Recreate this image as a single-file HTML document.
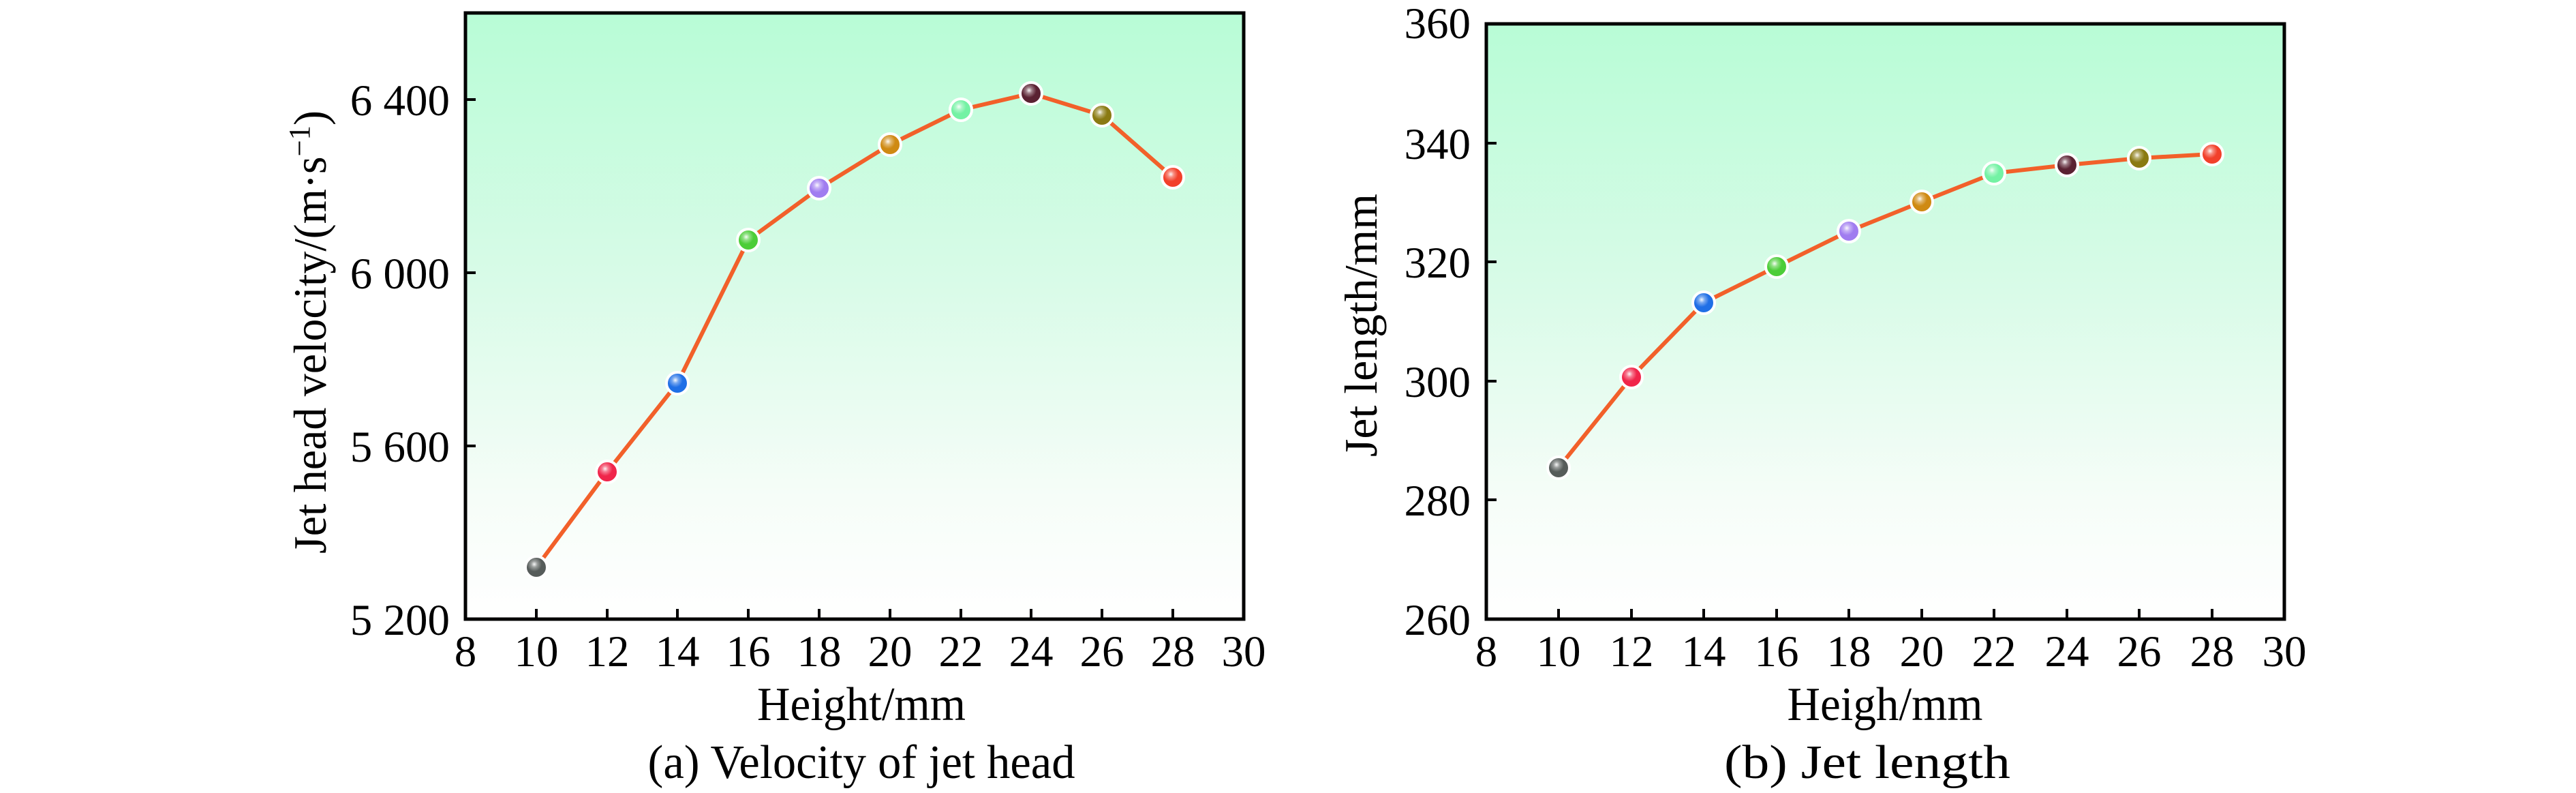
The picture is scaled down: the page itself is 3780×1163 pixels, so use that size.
<!DOCTYPE html>
<html><head><meta charset="utf-8"><style>html,body{margin:0;padding:0;background:#fff}svg{display:block}text{font-family:"Liberation Serif",serif;fill:#000}</style></head>
<body>
<svg width="3780" height="1163" viewBox="0 0 3780 1163" xmlns="http://www.w3.org/2000/svg">
<defs>
<linearGradient id="bg" x1="0" y1="0" x2="0" y2="1">
<stop offset="0" stop-color="#b8fcd6"/><stop offset="0.45" stop-color="#d9fbe8"/><stop offset="0.8" stop-color="#f6fdf8"/><stop offset="1" stop-color="#ffffff"/>
</linearGradient>
<radialGradient id="hl" cx="0.4" cy="0.35" r="0.6"><stop offset="0" stop-color="#fff" stop-opacity="0.95"/><stop offset="0.25" stop-color="#fff" stop-opacity="0.4"/><stop offset="0.6" stop-color="#fff" stop-opacity="0"/></radialGradient>
</defs>
<!-- Chart a -->
<rect x="683" y="19" width="1142" height="889" fill="url(#bg)"/>
<g stroke="#000" stroke-width="4">
<line x1="787" y1="908" x2="787" y2="893"/><line x1="891" y1="908" x2="891" y2="893"/><line x1="994" y1="908" x2="994" y2="893"/><line x1="1098" y1="908" x2="1098" y2="893"/><line x1="1202" y1="908" x2="1202" y2="893"/><line x1="1306" y1="908" x2="1306" y2="893"/><line x1="1410" y1="908" x2="1410" y2="893"/><line x1="1513" y1="908" x2="1513" y2="893"/><line x1="1617" y1="908" x2="1617" y2="893"/><line x1="1721" y1="908" x2="1721" y2="893"/>
<line x1="683" y1="146" x2="698" y2="146"/><line x1="683" y1="400" x2="698" y2="400"/><line x1="683" y1="654" x2="698" y2="654"/>
</g>
<rect x="683" y="19" width="1142" height="889" fill="none" stroke="#000" stroke-width="5"/>
<polyline fill="none" stroke="#f2602a" stroke-width="6" points="787,832 891,692 994,562 1098,352 1202,276 1306,212 1410,161 1513,137 1617,169 1721,260"/>
<g stroke="#fff" stroke-width="4">
<circle cx="787" cy="832" r="16" fill="#565c5a"/><circle cx="891" cy="692" r="16" fill="#f0254a"/><circle cx="994" cy="562" r="16" fill="#1f6fe6"/><circle cx="1098" cy="352" r="16" fill="#4ccd38"/><circle cx="1202" cy="276" r="16" fill="#a07cf0"/><circle cx="1306" cy="212" r="16" fill="#cf8a12"/><circle cx="1410" cy="161" r="16" fill="#74f2a4"/><circle cx="1513" cy="137" r="16" fill="#5a2232"/><circle cx="1617" cy="169" r="16" fill="#8a7a12"/><circle cx="1721" cy="260" r="16" fill="#f2402a"/>
</g>
<g fill="url(#hl)">
<circle cx="787" cy="832" r="15"/><circle cx="891" cy="692" r="15"/><circle cx="994" cy="562" r="15"/><circle cx="1098" cy="352" r="15"/><circle cx="1202" cy="276" r="15"/><circle cx="1306" cy="212" r="15"/><circle cx="1410" cy="161" r="15"/><circle cx="1513" cy="137" r="15"/><circle cx="1617" cy="169" r="15"/><circle cx="1721" cy="260" r="15"/>
</g>
<g font-size="65" text-anchor="end">
<text x="660" y="169">6 400</text><text x="660" y="423">6 000</text><text x="660" y="677">5 600</text><text x="660" y="931">5 200</text>
</g>
<g font-size="65" text-anchor="middle">
<text x="683" y="977">8</text><text x="787" y="977">10</text><text x="891" y="977">12</text><text x="994" y="977">14</text><text x="1098" y="977">16</text><text x="1202" y="977">18</text><text x="1306" y="977">20</text><text x="1410" y="977">22</text><text x="1513" y="977">24</text><text x="1617" y="977">26</text><text x="1721" y="977">28</text><text x="1825" y="977">30</text>
</g>
<text x="1264" y="1056" font-size="70" text-anchor="middle" textLength="306" lengthAdjust="spacingAndGlyphs">Height/mm</text>
<text x="1264" y="1141" font-size="70" text-anchor="middle" textLength="627" lengthAdjust="spacingAndGlyphs">(a) Velocity of jet head</text>
<text transform="translate(478,487) rotate(-90)" font-size="68" text-anchor="middle" textLength="650" lengthAdjust="spacingAndGlyphs">Jet head velocity/(m·s<tspan dy="-24" font-size="44">−1</tspan><tspan dy="24">)</tspan></text>

<!-- Chart b -->
<rect x="2181" y="35" width="1171" height="873" fill="url(#bg)"/>
<g stroke="#000" stroke-width="4">
<line x1="2287" y1="908" x2="2287" y2="893"/><line x1="2394" y1="908" x2="2394" y2="893"/><line x1="2500" y1="908" x2="2500" y2="893"/><line x1="2607" y1="908" x2="2607" y2="893"/><line x1="2713" y1="908" x2="2713" y2="893"/><line x1="2820" y1="908" x2="2820" y2="893"/><line x1="2926" y1="908" x2="2926" y2="893"/><line x1="3033" y1="908" x2="3033" y2="893"/><line x1="3139" y1="908" x2="3139" y2="893"/><line x1="3246" y1="908" x2="3246" y2="893"/>
<line x1="2181" y1="733" x2="2196" y2="733"/><line x1="2181" y1="559" x2="2196" y2="559"/><line x1="2181" y1="384" x2="2196" y2="384"/><line x1="2181" y1="210" x2="2196" y2="210"/>
</g>
<rect x="2181" y="35" width="1171" height="873" fill="none" stroke="#000" stroke-width="5"/>
<polyline fill="none" stroke="#f2602a" stroke-width="6" points="2287,686 2394,553 2500,444 2607,391 2713,339 2820,296 2926,254 3033,242 3139,232 3246,226"/>
<g stroke="#fff" stroke-width="4">
<circle cx="2287" cy="686" r="16" fill="#565c5a"/><circle cx="2394" cy="553" r="16" fill="#f0254a"/><circle cx="2500" cy="444" r="16" fill="#1f6fe6"/><circle cx="2607" cy="391" r="16" fill="#4ccd38"/><circle cx="2713" cy="339" r="16" fill="#a07cf0"/><circle cx="2820" cy="296" r="16" fill="#cf8a12"/><circle cx="2926" cy="254" r="16" fill="#74f2a4"/><circle cx="3033" cy="242" r="16" fill="#5a2232"/><circle cx="3139" cy="232" r="16" fill="#8a7a12"/><circle cx="3246" cy="226" r="16" fill="#f2402a"/>
</g>
<g fill="url(#hl)">
<circle cx="2287" cy="686" r="15"/><circle cx="2394" cy="553" r="15"/><circle cx="2500" cy="444" r="15"/><circle cx="2607" cy="391" r="15"/><circle cx="2713" cy="339" r="15"/><circle cx="2820" cy="296" r="15"/><circle cx="2926" cy="254" r="15"/><circle cx="3033" cy="242" r="15"/><circle cx="3139" cy="232" r="15"/><circle cx="3246" cy="226" r="15"/>
</g>
<g font-size="65" text-anchor="end">
<text x="2158" y="56">360</text><text x="2158" y="233">340</text><text x="2158" y="407">320</text><text x="2158" y="582">300</text><text x="2158" y="756">280</text><text x="2158" y="931">260</text>
</g>
<g font-size="65" text-anchor="middle">
<text x="2181" y="977">8</text><text x="2287" y="977">10</text><text x="2394" y="977">12</text><text x="2500" y="977">14</text><text x="2607" y="977">16</text><text x="2713" y="977">18</text><text x="2820" y="977">20</text><text x="2926" y="977">22</text><text x="3033" y="977">24</text><text x="3139" y="977">26</text><text x="3246" y="977">28</text><text x="3352" y="977">30</text>
</g>
<text x="2766" y="1056" font-size="70" text-anchor="middle" textLength="287" lengthAdjust="spacingAndGlyphs">Heigh/mm</text>
<text x="2740" y="1141" font-size="70" text-anchor="middle" textLength="420" lengthAdjust="spacingAndGlyphs">(b) Jet length</text>
<text transform="translate(2020,477) rotate(-90)" font-size="68" text-anchor="middle" textLength="386" lengthAdjust="spacingAndGlyphs">Jet length/mm</text>
</svg>
</body></html>
